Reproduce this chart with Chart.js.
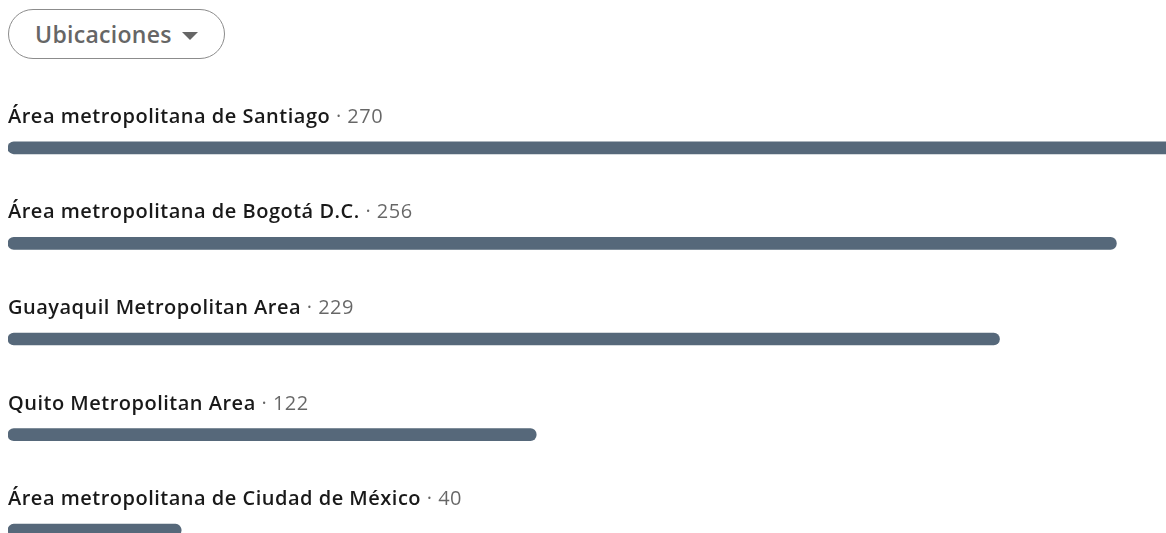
<!DOCTYPE html>
<html>
<head>
<meta charset="utf-8">
<script src="https://cdn.jsdelivr.net/npm/chart.js@4"></script>
<style>
  html, body { margin: 0; padding: 0; background: #fff; overflow: hidden; width: 1166px; height: 533px; }
  .pill {
    position: absolute; left: 8px; top: 9px; width: 215px; height: 48px;
    border: 1px solid #8c8c8c; border-radius: 25px; box-sizing: content-box;
    font-family: "Open Sans", sans-serif; font-weight: 600; font-size: 23px; letter-spacing: 0.3px; color: #666;
  }
  .pill span { position: absolute; left: 26px; top: 8px; }
  .pill i { position: absolute; left: 173px; top: 22px; width: 0; height: 0;
    border-left: 8px solid transparent; border-right: 8px solid transparent; border-top: 8px solid #666; }
  #wrap { position: absolute; left: 0; top: 100px; width: 1177px; height: 478px; }
</style>
</head>
<body>
<div class="pill"><span>Ubicaciones</span><i></i></div>
<div id="wrap"><canvas id="myChart"></canvas></div>
<script>
const locations = [
  'Área metropolitana de Santiago',
  'Área metropolitana de Bogotá D.C.',
  'Guayaquil Metropolitan Area',
  'Quito Metropolitan Area',
  'Área metropolitana de Ciudad de México'
];
const counts = [270, 256, 229, 122, 40];
const xMax = 270;

// draws "name · count" above each bar
const labelPlugin = {
  id: 'barLabels',
  afterDatasetsDraw(chart) {
    const ctx = chart.ctx;
    const meta = chart.getDatasetMeta(0);
    const left = chart.chartArea.left;
    ctx.save();
    ctx.textBaseline = 'alphabetic';
    ctx.letterSpacing = '0.5px';
    meta.data.forEach((bar, i) => {
      const y = bar.y - 25;
      ctx.font = '600 20px "Open Sans", sans-serif';
      ctx.fillStyle = 'rgba(0,0,0,0.9)';
      ctx.fillText(locations[i], left, y);
      const w = ctx.measureText(locations[i]).width;
      ctx.font = '400 20px "Open Sans", sans-serif';
      ctx.fillStyle = 'rgba(0,0,0,0.6)';
      ctx.fillText(' · ' + counts[i], left + w, y);
    });
    ctx.restore();
  }
};

new Chart(document.getElementById('myChart'), {
  type: 'bar',
  data: {
    labels: locations,
    datasets: [{
      data: counts,
      backgroundColor: '#56687a',
      barThickness: 12,
      borderRadius: 6,
      borderSkipped: false
    }]
  },
  options: {
    indexAxis: 'y',
    responsive: true,
    maintainAspectRatio: false,
    animation: false,
    layout: { padding: { left: 8, right: 0, top: 0, bottom: 0 } },
    plugins: { legend: { display: false }, tooltip: { enabled: false } },
    scales: {
      x: { display: false, min: 0, max: xMax },
      y: { display: false }
    }
  },
  plugins: [labelPlugin]
});
</script>
</body>
</html>
